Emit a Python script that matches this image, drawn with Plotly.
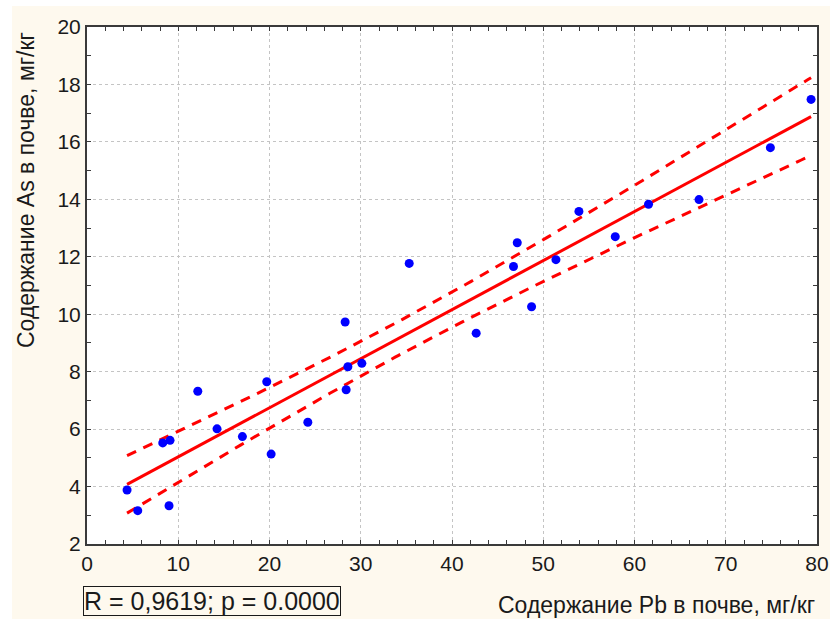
import numpy as np
import plotly.graph_objects as go

# Data (Pb vs As content in soil, mg/kg)
pb = [4.39, 5.56, 8.99, 8.30, 9.10, 12.14, 14.25, 17.03, 19.70, 20.18,
      24.20, 28.29, 28.40, 28.59, 30.12, 35.31, 42.65, 46.74, 47.15, 48.72,
      51.39, 53.91, 57.89, 61.54, 67.07, 74.89, 79.35]
as_ = [3.88, 3.16, 3.33, 5.52, 5.61, 7.32, 6.01, 5.74, 7.65, 5.13,
       6.24, 9.73, 7.37, 8.17, 8.29, 11.77, 9.34, 11.66, 12.49, 10.26,
       11.90, 13.58, 12.70, 13.83, 13.99, 15.80, 17.48]

x_ticks = [0, 10, 20, 30, 40, 50, 60, 70, 80]
y_ticks = [2, 4, 6, 8, 10, 12, 14, 16, 18, 20]

stat_text = "R = 0,9619; p = 0.0000"
x_title = "Содержание Pb в почве, мг/кг"
y_title = "Содержание As в почве, мг/кг"

T_CRIT = 2.787  # t(0.995, df=25), 99% confidence band

# Linear regression and confidence band
x = np.array(pb)
y = np.array(as_)
n = len(x)
b1, b0 = np.polyfit(x, y, 1)
resid = y - (b0 + b1 * x)
s = np.sqrt(np.sum(resid ** 2) / (n - 2))
sxx = np.sum((x - x.mean()) ** 2)
xf = np.linspace(x.min(), x.max(), 200)
yf = b0 + b1 * xf
half = T_CRIT * s * np.sqrt(1 / n + (xf - x.mean()) ** 2 / sxx)

CREAM = "#FEF9EE"
RED = "#FF0000"
FONT = "Liberation Sans, Arial, sans-serif"
INK = "#1a1a1a"

fig = go.Figure()
fig.add_trace(go.Scatter(x=xf, y=yf + half, mode="lines",
                         line=dict(color=RED, width=3, dash="10px,8px"),
                         hoverinfo="skip", showlegend=False))
fig.add_trace(go.Scatter(x=xf, y=yf - half, mode="lines",
                         line=dict(color=RED, width=3, dash="10px,8px"),
                         hoverinfo="skip", showlegend=False))
fig.add_trace(go.Scatter(x=xf, y=yf, mode="lines",
                         line=dict(color=RED, width=3),
                         hoverinfo="skip", showlegend=False))
fig.add_trace(go.Scatter(x=pb, y=as_, mode="markers",
                         marker=dict(color="#0000FF", size=9),
                         showlegend=False))

axis_common = dict(
    showline=True, linecolor="#3a3a3a", linewidth=2, mirror="ticks",
    ticks="inside", ticklen=4, tickcolor="#3a3a3a", tickwidth=1,
    showgrid=True, gridcolor="#c4c4c4", gridwidth=1, griddash="dot",
    zeroline=False, automargin=False,
    tickfont=dict(family=FONT, size=21, color=INK),
)

fig.update_xaxes(range=[0, 80], tickvals=x_ticks,
                 minor=dict(dtick=2, ticks="inside", ticklen=4, tickcolor="#3a3a3a",
                            showgrid=False),
                 **axis_common)
fig.update_yaxes(range=[2, 20], tickvals=y_ticks,
                 minor=dict(dtick=1, ticks="inside", ticklen=4, tickcolor="#3a3a3a",
                            showgrid=False),
                 **axis_common)

L, R, T, B = 87, 13, 27, 75
W, H = 830, 619
pw, ph = W - L - R, H - T - B

def px_x(p):
    return (p - L) / pw

def px_y(p):
    return (H - B - p) / ph

fig.update_layout(
    width=W, height=H,
    margin=dict(l=L, r=R, t=T, b=B, pad=0),
    paper_bgcolor=CREAM, plot_bgcolor="white",
    font=dict(family=FONT, color=INK),
    shapes=[
        dict(type="rect", xref="paper", yref="paper", layer="below",
             x0=px_x(0), x1=px_x(W), y0=px_y(6), y1=px_y(0),
             fillcolor="white", line=dict(width=0)),
        dict(type="rect", xref="paper", yref="paper", layer="below",
             x0=px_x(0), x1=px_x(12), y0=px_y(H), y1=px_y(0),
             fillcolor="white", line=dict(width=0)),
    ],
    annotations=[
        dict(text=stat_text, xref="paper", yref="paper",
             x=px_x(83), y=px_y(601), xanchor="left", yanchor="middle",
             showarrow=False, font=dict(family=FONT, size=25, color=INK),
             bordercolor=INK, borderwidth=1, borderpad=0, bgcolor=CREAM),
        dict(text=x_title, xref="paper", yref="paper",
             x=1.0, y=px_y(605), xanchor="right", yanchor="middle",
             showarrow=False, font=dict(family=FONT, size=23, color=INK)),
        dict(text=y_title, xref="paper", yref="paper", textangle=-90,
             x=px_x(26), y=px_y(30), xanchor="center", yanchor="top",
             showarrow=False, font=dict(family=FONT, size=23, color=INK)),
    ],
)

fig.write_html("out.html")
